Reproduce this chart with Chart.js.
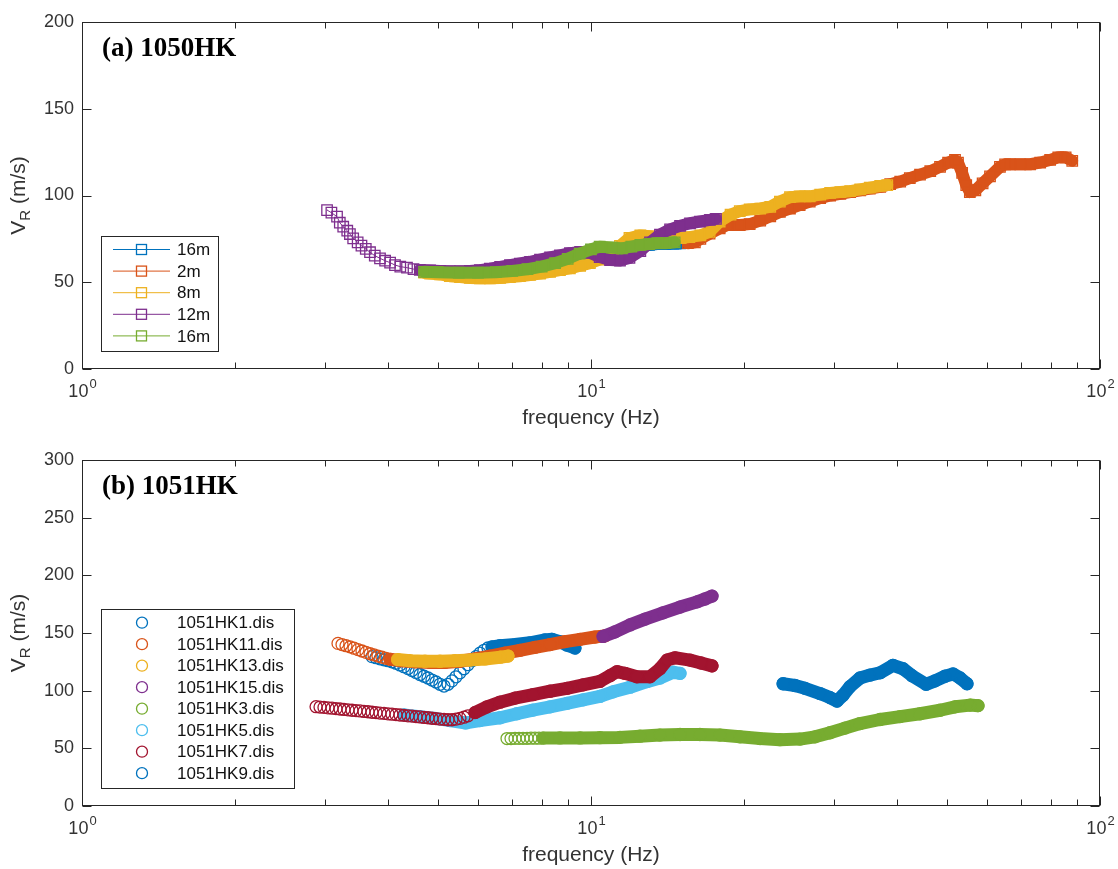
<!DOCTYPE html>
<html>
<head>
<meta charset="utf-8">
<script src="https://cdn.jsdelivr.net/npm/chart.js@4.4.0/dist/chart.umd.min.js"></script>
<style>
  body { margin: 0; background: #fff; }
  canvas { position: absolute; left: 0; }
</style>
</head>
<body>
<canvas id="chartA" width="1118" height="440" style="top:0px"></canvas>
<canvas id="chartB" width="1118" height="429" style="top:440px"></canvas>
<script>
// MATLAB default colour order
const colors = ['#0072BD', '#D95319', '#EDB120', '#7E2F8E', '#77AC30', '#4DBEEE', '#A2142F'];

// Axis ticks
const xTickLabels = [1, 10, 100];
const xMinorTicks = [2, 3, 4, 5, 6, 7, 8, 9, 20, 30, 40, 50, 60, 70, 80, 90];
const yTicksA = [0, 50, 100, 150, 200];
const yTicksB = [0, 50, 100, 150, 200, 250, 300];

// ---- Panel (a) 1050HK ----
const freq16mA = [4.70, 5.00, 5.50, 6.00, 6.50, 7.00, 7.50, 8.00, 8.50, 9.00, 9.50, 10.0, 10.4, 11.0, 11.5, 12.0, 12.5, 13.0, 13.5, 14.0, 14.5, 14.96];
const vel16mA = [55.8, 55.5, 55.2, 55.2, 55.5, 56.2, 57.2, 58.6, 60.6, 63.0, 66.0, 68.5, 70.0, 69.6, 69.0, 70.0, 71.0, 71.5, 72.0, 72.0, 72.2, 72.4];

const freq2m = [15.5, 16.0, 16.4, 17.1, 17.9, 18.5, 19.6, 20.5, 21.5, 22.5, 23.5, 24.6, 25.7, 26.9, 28.2, 29.5, 30.9, 32.3, 33.8, 35.3, 37.0, 38.7, 40.5, 42.3, 44.3, 46.4, 48.5, 50.3, 51.9, 52.6, 53.6, 54.6, 55.5, 56.9, 58.8, 60.8, 63.6, 65.1, 66.6, 69.7, 72.9, 76.3, 79.8, 82.8, 85.6, 88.2];
const vel2m = [72.5, 73.0, 75.0, 78.0, 81.0, 83.0, 83.0, 83.5, 85.5, 88.0, 90.5, 92.5, 94.5, 96.5, 98.5, 100.0, 101.0, 102.0, 103.0, 104.0, 105.0, 106.5, 108.0, 110.0, 112.0, 114.0, 116.5, 119.0, 120.5, 119.0, 113.0, 106.0, 102.0, 103.0, 107.0, 111.0, 116.5, 118.0, 118.0, 118.0, 118.0, 119.0, 120.5, 122.0, 122.0, 120.0];

const freq8m = [4.70, 4.83, 5.05, 5.28, 5.53, 5.78, 6.05, 6.33, 6.63, 6.93, 7.25, 7.59, 7.94, 8.31, 8.69, 9.09, 9.52, 9.95, 10.4, 10.9, 11.4, 11.9, 12.5, 13.1, 13.7, 14.3, 15.0, 15.6, 16.4, 17.1, 17.9, 18.8, 19.6, 20.5, 21.5, 22.5, 23.5, 24.6, 25.7, 26.9, 28.2, 29.5, 30.9, 32.3, 33.8, 35.3, 37.0, 38.2];
const vel8m = [55.5, 55.0, 54.5, 53.5, 53.0, 52.5, 52.3, 52.3, 52.5, 53.0, 53.5, 54.2, 55.0, 56.0, 57.0, 58.0, 59.5, 61.0, 63.0, 66.0, 71.0, 75.5, 77.0, 76.5, 75.5, 75.5, 75.5, 76.0, 77.0, 79.0, 85.0, 89.0, 91.0, 92.0, 92.5, 93.5, 96.5, 99.0, 99.5, 99.5, 100.5, 101.5, 102.0, 102.5, 103.5, 104.5, 105.5, 106.0];

const freq12m = [3.03, 3.09, 3.17, 3.21, 3.26, 3.32, 3.36, 3.41, 3.48, 3.54, 3.61, 3.68, 3.76, 3.85, 3.94, 4.03, 4.12, 4.22, 4.35, 4.48, 4.61,
  4.83, 5.05, 5.28, 5.53, 5.78, 6.05, 6.33, 6.63, 6.93, 7.25, 7.59, 7.94, 8.31, 8.69, 9.09, 9.52, 9.95, 10.4, 10.9, 11.4, 11.9, 12.5, 13.06, 13.66, 14.3, 14.96, 15.65, 16.37, 17.13, 17.6];
const vel12m = [91.6, 90.1, 87.8, 84.3, 82.0, 79.7, 77.8, 75.3, 73.0, 71.1, 69.2, 67.3, 65.3, 63.8, 62.4, 61.3, 59.9, 59.0, 58.4, 57.6, 57.1,
  56.8, 56.5, 56.3, 56.3, 56.5, 57.0, 57.8, 58.8, 59.8, 60.8, 61.8, 63.0, 64.3, 65.5, 66.8, 67.5, 67.0, 64.5, 62.8, 62.5, 64.0, 68.0, 73.0, 77.5, 80.5, 82.5, 84.0, 85.0, 86.0, 86.5];

const freq16mB = [4.70, 5.00, 5.50, 6.00, 6.50, 7.00, 7.50, 8.00, 8.50, 9.00, 9.50, 10.0, 10.4, 11.0, 11.5, 12.0, 12.5, 13.0, 13.5, 14.0, 14.6];
const vel16mB = [56.0, 55.8, 55.5, 55.5, 55.8, 56.5, 57.5, 59.0, 61.0, 63.5, 66.5, 69.0, 70.5, 70.0, 69.5, 70.5, 71.5, 72.0, 72.5, 72.5, 73.0];

// ---- Panel (b) 1051HK ----
const freqHK1 = [3.713, 3.781, 3.850, 3.921, 3.992, 4.064, 4.139, 4.215, 4.291, 4.370, 4.450, 4.531, 4.613, 4.698, 4.784, 4.871, 4.960, 5.050, 5.143, 5.237, 5.332, 5.430, 5.528, 5.629, 5.731, 5.836, 5.943, 6.052, 6.163, 6.275, 6.390, 6.625, 7.09, 7.59, 8.12, 8.38, 8.69, 8.97, 9.30];
const velHK1 = [129.5, 128.6, 127.6, 126.8, 126.0, 125.0, 123.8, 122.3, 120.8, 119.2, 117.5, 115.8, 114.0, 112.5, 111.0, 109.2, 107.5, 105.5, 104.0, 105.5, 108.5, 112.0, 115.5, 119.0, 122.5, 126.0, 129.5, 132.5, 135.0, 137.0, 138.0, 139.0, 140.0, 141.5, 144.0, 144.5, 142.5, 139.5, 137.0];

const freqHK11 = [3.184, 3.242, 3.301, 3.362, 3.423, 3.485, 3.549, 3.614, 3.680, 3.747, 3.815, 3.885, 3.956, 4.029, 4.215, 4.511, 4.827, 5.166, 5.528, 5.916, 6.331, 6.776, 7.252, 7.762, 8.308, 8.889, 9.515, 10.18, 10.65];
const velHK11 = [141.0, 140.0, 139.0, 138.0, 136.8, 135.6, 134.4, 133.2, 132.0, 131.0, 130.0, 129.0, 128.0, 127.2, 126.0, 125.0, 124.5, 124.5, 125.5, 127.5, 130.0, 132.5, 135.0, 137.5, 140.0, 142.5, 144.5, 146.5, 147.5];

const freqHK13 = [4.17, 4.41, 4.72, 5.05, 5.40, 5.78, 6.19, 6.63, 6.87];
const velHK13 = [127.0, 126.0, 125.5, 125.5, 126.0, 126.5, 127.5, 129.0, 130.0];

const freqHK15 = [10.56, 11.15, 11.93, 12.77, 13.85, 14.96, 16.16, 16.75, 17.29];
const velHK15 = [147.0, 151.0, 157.0, 162.0, 167.5, 172.5, 177.0, 179.5, 182.0];

const freqHK3 = [6.839, 6.964, 7.091, 7.221, 7.353, 7.487, 7.624, 7.762, 7.904, 8.049,
  8.69, 9.52, 10.41, 11.40, 12.48, 13.66, 14.96, 16.37, 17.92, 19.62, 21.48, 23.51, 25.74, 27.55, 29.48, 31.55, 33.77, 36.97, 40.47, 44.31, 48.51, 51.9, 55.55, 57.6];
const velHK3 = [58.5, 58.5, 58.6, 58.6, 58.7, 58.7, 58.8, 58.8, 58.8, 58.9,
  59.0, 59.0, 59.2, 59.5, 60.5, 61.5, 62.0, 62.0, 61.5, 60.0, 58.5, 57.5, 58.0, 60.0, 63.5, 67.5, 71.5, 75.0, 77.5, 80.0, 83.0, 86.0, 87.5, 87.0];

const freqHK5 = [4.29, 4.61, 4.94, 5.28, 5.68, 6.05, 6.63, 7.15, 7.69, 8.31, 8.97, 9.65, 10.41, 11.05, 11.93, 12.88, 13.66, 14.49, 14.96];
const velHK5 = [79.0, 77.5, 76.0, 74.0, 72.0, 74.0, 76.5, 80.0, 83.2, 86.0, 89.0, 92.0, 95.0, 99.0, 103.0, 107.8, 111.0, 116.0, 115.0];

const freqHK7 = [2.883, 2.935, 2.988, 3.043, 3.099, 3.155, 3.213, 3.271, 3.331, 3.392, 3.454, 3.517, 3.581, 3.647, 3.713, 3.781, 3.850, 3.921, 3.992, 4.064, 4.139, 4.215, 4.291, 4.370, 4.450, 4.531, 4.613, 4.698, 4.784, 4.871, 4.960, 5.050, 5.143, 5.237, 5.332, 5.430, 5.528, 5.629, 5.731,
  5.916, 6.247, 6.625, 7.09, 7.69, 8.31, 8.97, 9.65, 10.41, 10.90, 11.25, 11.66, 12.31, 13.06, 13.66, 14.11, 14.62, 15.65, 16.45, 17.29];
const velHK7 = [86.1, 85.8, 85.5, 85.1, 84.8, 84.4, 84.1, 83.7, 83.4, 83.0, 82.7, 82.4, 82.0, 81.7, 81.3, 81.0, 80.6, 80.3, 79.9, 79.6, 79.2, 78.9, 78.6, 78.2, 77.9, 77.5, 77.2, 76.8, 76.5, 76.1, 75.8, 75.4, 75.1, 74.8, 74.8, 75.3, 76.0, 77.0, 78.2,
  81.0, 86.0, 90.0, 93.5, 96.5, 99.5, 102.0, 105.0, 108.0, 113.0, 116.5, 115.0, 112.0, 112.0, 119.0, 126.5, 128.5, 126.5, 124.0, 121.5];

const freqHK9 = [23.84, 25.16, 26.33, 28.18, 29.48, 30.43, 31.27, 32.27, 33.77, 35.33, 36.97, 39.2, 41.02, 42.72, 45.52, 47.41, 49.6, 51.43, 53.09, 54.8];
const velHK9 = [106.0, 104.5, 102.0, 97.5, 94.0, 91.0, 96.0, 103.5, 111.0, 113.5, 115.5, 122.0, 119.0, 113.0, 105.5, 108.5, 112.5, 114.5, 111.0, 106.0];

// Series lists (solidFrom: frequency from which the markers merge into a solid band)
const seriesA = [
  { label: '16m', freq: freq16mA, vel: vel16mA, color: colors[0], solidFrom: 0 },
  { label: '2m', freq: freq2m, vel: vel2m, color: colors[1], solidFrom: 0 },
  { label: '8m', freq: freq8m, vel: vel8m, color: colors[2], solidFrom: 0 },
  { label: '12m', freq: freq12m, vel: vel12m, color: colors[3], solidFrom: 4.6 },
  { label: '16m', freq: freq16mB, vel: vel16mB, color: colors[4], solidFrom: 0 },
];
const seriesB = [
  { label: '1051HK1.dis', freq: freqHK1, vel: velHK1, color: colors[0], solidFrom: 6.39 },
  { label: '1051HK11.dis', freq: freqHK11, vel: velHK11, color: colors[1], solidFrom: 4.0 },
  { label: '1051HK13.dis', freq: freqHK13, vel: velHK13, color: colors[2], solidFrom: 0 },
  { label: '1051HK15.dis', freq: freqHK15, vel: velHK15, color: colors[3], solidFrom: 0 },
  { label: '1051HK3.dis', freq: freqHK3, vel: velHK3, color: colors[4], solidFrom: 8.0 },
  { label: '1051HK5.dis', freq: freqHK5, vel: velHK5, color: colors[5], solidFrom: 0 },
  { label: '1051HK7.dis', freq: freqHK7, vel: velHK7, color: colors[6], solidFrom: 5.8 },
  { label: '1051HK9.dis', freq: freqHK9, vel: velHK9, color: colors[0], solidFrom: 0 },
];

const SANS = '"Liberation Sans", Arial, sans-serif';
const INK = '#262626';

// Function to build the datasets of one panel
function makeDatasets(series, marker, radius, band, thinColor) {
  return series.map((s, i) => ({
    label: s.label,
    data: s.freq.map((f, k) => ({ x: f, y: s.vel[k] })),
    order: -i,
    borderColor: s.color,
    borderWidth: band,
    borderCapStyle: 'round',
    borderJoinStyle: 'round',
    tension: 0,
    pointStyle: marker,
    pointRadius: radius,
    pointBorderWidth: 1.3,
    pointBorderColor: s.color,
    pointBackgroundColor: 'rgba(0,0,0,0)',
    segment: {
      borderWidth: ctx => (s.freq[ctx.p0DataIndex] >= s.solidFrom ? band : 1),
      borderColor: ctx => (s.freq[ctx.p0DataIndex] >= s.solidFrom ? s.color : (thinColor ? s.color : 'rgba(0,0,0,0)')),
    },
  }));
}

// Function to draw frame, inward ticks, axis labels, titles and legend
function makeDecor(cfg) {
  return {
    id: 'decor',
    afterDraw(chart) {
      const { ctx, chartArea: a, scales: { x, y } } = chart;
      ctx.save();

      // box
      ctx.strokeStyle = INK;
      ctx.lineWidth = 1;
      const L = Math.round(a.left) + 0.5, R = Math.round(a.right) - 0.5;
      const T = Math.round(a.top) + 0.5, B = Math.round(a.bottom) - 0.5;
      ctx.strokeRect(L, T, R - L, B - T);

      // inward ticks
      ctx.beginPath();
      xMinorTicks.concat(xTickLabels).forEach(v => {
        const px = Math.round(x.getPixelForValue(v)) + 0.5;
        const len = xTickLabels.includes(v) ? 9 : 6;
        ctx.moveTo(px, B); ctx.lineTo(px, B - len);
        ctx.moveTo(px, T); ctx.lineTo(px, T + len);
      });
      cfg.yTicks.forEach(v => {
        const py = Math.round(y.getPixelForValue(v)) + 0.5;
        ctx.moveTo(L, py); ctx.lineTo(L + 9, py);
        ctx.moveTo(R, py); ctx.lineTo(R - 9, py);
      });
      ctx.stroke();

      // x tick labels 10^n
      ctx.fillStyle = '#333';
      ctx.textBaseline = 'alphabetic';
      ctx.textAlign = 'left';
      xTickLabels.forEach(v => {
        const px = x.getPixelForValue(v);
        const exp = String(Math.round(Math.log10(v)));
        ctx.font = '18px ' + SANS;
        const w1 = ctx.measureText('10').width;
        ctx.font = '13px ' + SANS;
        const w2 = ctx.measureText(exp).width;
        const x0 = px - (w1 + w2) / 2;
        ctx.font = '18px ' + SANS;
        ctx.fillText('10', x0, a.bottom + 28);
        ctx.font = '13px ' + SANS;
        ctx.fillText(exp, x0 + w1 + 1, a.bottom + 19);
      });

      // x title
      ctx.font = '21px ' + SANS;
      ctx.textAlign = 'center';
      ctx.fillText('frequency (Hz)', (a.left + a.right) / 2, a.bottom + 55);

      // y title V_R (m/s)
      ctx.save();
      ctx.translate(25, (a.top + a.bottom) / 2);
      ctx.rotate(-Math.PI / 2);
      ctx.textAlign = 'left';
      ctx.font = '21px ' + SANS;
      const wV = ctx.measureText('V').width;
      const wRest = ctx.measureText(' (m/s)').width;
      ctx.font = '15px ' + SANS;
      const wR = ctx.measureText('R').width;
      const tx = -(wV + wR + wRest) / 2;
      ctx.font = '21px ' + SANS;
      ctx.fillText('V', tx, 0);
      ctx.font = '15px ' + SANS;
      ctx.fillText('R', tx + wV, 5);
      ctx.font = '21px ' + SANS;
      ctx.fillText(' (m/s)', tx + wV + wR, 0);
      ctx.restore();

      // panel label
      ctx.fillStyle = '#000';
      ctx.textAlign = 'left';
      ctx.font = 'bold 27px "Liberation Serif", "Times New Roman", serif';
      ctx.fillText(cfg.title, 102, a.top + 34);

      // legend
      const G = cfg.legend;
      ctx.fillStyle = '#fff';
      ctx.fillRect(G.x, G.y, G.w, G.h);
      ctx.strokeStyle = INK;
      ctx.lineWidth = 1;
      ctx.strokeRect(G.x + 0.5, G.y + 0.5, G.w, G.h);
      cfg.series.forEach((s, i) => {
        const cy = G.rowTop + i * G.rowGap;
        ctx.strokeStyle = s.color;
        if (cfg.marker === 'rect') {
          ctx.lineWidth = 1;
          ctx.beginPath();
          ctx.moveTo(G.lineX0, cy); ctx.lineTo(G.lineX1, cy);
          ctx.stroke();
          ctx.lineWidth = 1.3;
          ctx.strokeRect(G.markX - 5, cy - 5, 10, 10);
        } else {
          ctx.lineWidth = 1.3;
          ctx.beginPath();
          ctx.arc(G.markX, cy, 5.5, 0, Math.PI * 2);
          ctx.stroke();
        }
        ctx.fillStyle = '#111';
        ctx.font = '17px ' + SANS;
        ctx.textBaseline = 'middle';
        ctx.fillText(s.label, G.textX, cy + 1);
        ctx.textBaseline = 'alphabetic';
      });

      ctx.restore();
    },
  };
}

// Function to render one panel
function renderPanel(id, cfg) {
  const ctx = document.getElementById(id).getContext('2d');
  new Chart(ctx, {
    type: 'line',
    data: { datasets: makeDatasets(cfg.series, cfg.marker, cfg.radius, cfg.band, cfg.thinLine) },
    options: {
      responsive: false,
      animation: false,
      devicePixelRatio: 1,
      events: [],
      layout: { padding: { top: cfg.padTop, right: 18, left: 0, bottom: 0 } },
      plugins: { legend: { display: false }, tooltip: { enabled: false } },
      scales: {
        x: {
          type: 'logarithmic',
          min: 1,
          max: 100,
          grid: { display: false, drawTicks: false },
          border: { display: false },
          ticks: { display: false },
          afterFit: s => { s.height = cfg.xHeight; },
        },
        y: {
          type: 'linear',
          min: 0,
          max: cfg.yMax,
          grid: { display: false, drawTicks: false },
          border: { display: false },
          ticks: { color: '#333', font: { family: SANS, size: 18 }, padding: 8 },
          afterBuildTicks: s => { s.ticks = cfg.yTicks.map(v => ({ value: v })); },
          afterFit: s => { s.width = 82; },
        },
      },
    },
    plugins: [makeDecor(cfg)],
  });
}

renderPanel('chartA', {
  title: '(a) 1050HK',
  series: seriesA,
  marker: 'rect',
  radius: 7.4,
  band: 12,
  thinLine: true,
  yMax: 200,
  yTicks: yTicksA,
  padTop: 22,
  xHeight: 71,
  legend: { x: 101, y: 236, w: 117, h: 115, rowTop: 249.5, rowGap: 21.6, lineX0: 113, lineX1: 170, markX: 141.5, textX: 177 },
});

renderPanel('chartB', {
  title: '(b) 1051HK',
  series: seriesB,
  marker: 'circle',
  radius: 6,
  band: 13,
  thinLine: false,
  yMax: 300,
  yTicks: yTicksB,
  padTop: 20,
  xHeight: 63,
  legend: { x: 101, y: 169, w: 193, h: 179, rowTop: 182.7, rowGap: 21.5, markX: 142, textX: 177 },
});
</script>
</body>
</html>
